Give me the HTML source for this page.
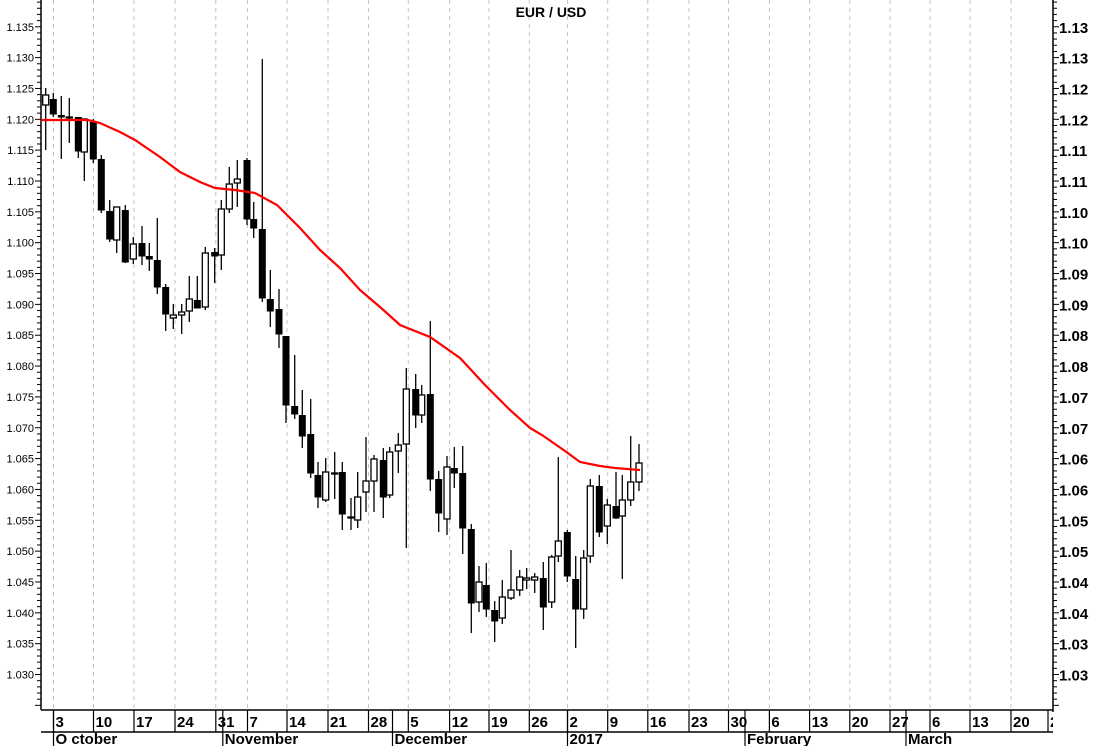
<!DOCTYPE html>
<html><head><meta charset="utf-8"><style>
html,body{margin:0;padding:0;background:#fff;}
svg{display:block;font-family:"Liberation Sans",Arial,sans-serif;}
</style></head><body>
<svg id="s" width="1095" height="746" xmlns="http://www.w3.org/2000/svg">
<defs><clipPath id="cp"><rect x="0" y="700" width="1053" height="46"/></clipPath></defs>
<rect width="1095" height="746" fill="#fff"/>
<g id="grid"></g>
<g id="axes"></g>
<g id="bot" clip-path="url(#cp)"></g>
<g id="candles"></g>
<polyline fill="none" stroke="#ff0000" stroke-width="2.2" points="41,120 88,120 100,123 120,132 135,140 160,157 180,172 200,182 215,188 235,190 255,193 277,205 300,228 320,250 340,268 360,290 380,307 400,325 430,337 460,358 485,385 510,410 530,428 542,435 565,451 580,462 600,466 615,468 640,470"/>
<text x="551" y="17" font-size="14" font-weight="bold" text-anchor="middle">EUR / USD</text>
</svg>
<script>
var NS="http://www.w3.org/2000/svg";
function el(p,t,a,txt){var e=document.createElementNS(NS,t);for(var k in a)e.setAttribute(k,a[k]);if(txt!==undefined)e.textContent=txt;document.getElementById(p).appendChild(e);return e;}
var gx=[53.5,93.5,134,175,215.8,247.5,287,328,368.5,408.3,449.6,489,529.3,567.5,607.7,647.8,689,728.5,769.4,809.6,849.8,890,930,970,1011,1048];
var gl=["3","10","17","24","31","7","14","21","28","5","12","19","26","2","9","16","23","30","6","13","20","27","6","13","20","2"];
for(var i=0;i<gx.length-1;i++){el("grid","line",{x1:gx[i],y1:0,x2:gx[i],y2:710,stroke:"#c4c4c4","stroke-width":1,"stroke-dasharray":"4,4"});}
el("axes","line",{x1:41,y1:0,x2:41,y2:710,stroke:"#000","stroke-width":1.5});
el("axes","line",{x1:1053,y1:0,x2:1053,y2:712,stroke:"#000","stroke-width":1.5});
el("axes","line",{x1:41,y1:710,x2:1053,y2:710,stroke:"#000","stroke-width":1.5});
el("axes","line",{x1:41,y1:732,x2:1053,y2:732,stroke:"#000","stroke-width":1.5});
function Y(p){return 119.3+(1.12-p)*6169;}
for(var v=1025;v<=1139;v++){var y=Y(v/1000);if(y<0||y>710)continue;var maj=(v%5==0);
el("axes","line",{x1:maj?35:37,y1:y,x2:41,y2:y,stroke:"#000","stroke-width":1});
el("axes","line",{x1:1053,y1:y,x2:maj?1059:1057,y2:y,stroke:"#000","stroke-width":1});
if(maj&&v>=1030&&v<=1135){el("axes","text",{x:34,y:y+4,"font-size":11,"text-anchor":"end"},(v/1000).toFixed(3));
var r=(Math.floor(v/10)/100).toFixed(2);
el("axes","text",{x:1059,y:y+6,"font-size":15,"font-weight":"bold"},r);}}
for(var i=0;i<gx.length;i++){el("bot","line",{x1:gx[i],y1:710,x2:gx[i],y2:732,stroke:"#000","stroke-width":1.2});
el("bot","text",{x:gx[i]+2,y:727,"font-size":15,"font-weight":"bold"},gl[i]);}
var mx=[53.5,222.8,392.5,567.5,745,906],ml=["O ctober","November","December","2017","February","March"];
for(var i=0;i<mx.length;i++){el("bot","line",{x1:mx[i],y1:710,x2:mx[i],y2:746,stroke:"#000","stroke-width":1.2});
el("bot","text",{x:mx[i]+2,y:744,"font-size":15,"font-weight":"bold"},ml[i]);}
var c=[[45.7,88,150,95,105,1],[53.3,93,117,99,114,0],[61.3,96,159,115,117,0],[69.3,98,143,117,117.5,1],[78.3,117,158,117,151,0],[84.3,119,181,119,152,1],[93.3,119,163,122,159,0],[101.3,155,213,159,210,0],[109.7,200,242,211,239,0],[116.7,207,253,207,240,1],[125.3,205,263,210,262,0],[133.3,237,264,244,259,1],[142,226,265,243,256,0],[149.3,243,271,256,259,0],[157.3,218,294,260,287,0],[165.7,284,331,287,314,0],[173.3,304,329,315,318,1],[181.7,304,334,312,315,1],[189.3,276,322,299,311,1],[197.3,276,306,300,308,0],[205.3,247,310,253,307,1],[214.7,248,283,252,256,0],[221.3,200,270,209,255,1],[229.3,167,213,184,209,1],[237.3,160,207,179,183,1],[247,158,225,160,219,0],[253.7,202,238,219,228,0],[262.3,59,302,229,298,0],[270.3,270,327,299,311,0],[279,289,348,309,334,0],[286,336,423,336,405,0],[294.7,355,419,406,414,0],[302.3,390,448,415,436,0],[310.7,399,478,434,473,0],[318,462,508,475,497,0],[325.7,458,502,472,500,1],[334.7,452,499,473,473.5,1],[342.3,462,530,472,514,0],[351,498,530,517,517.5,1],[357.7,472,528,497,520,1],[366,437,512,481,492,1],[374,455,512,459,481,1],[383.3,448,518,460,497,0],[389.7,447,498,452,495,1],[398.3,433,473,445,451,1],[406.3,368,548,389,444,1],[415.7,374,428,389,415,0],[421.7,385,423,395,415,1],[430.3,321,491,394,479,0],[438.7,471,532,479,513,0],[447,456,535,467,519,1],[454.3,447,488,468,473,0],[462.7,446,554,473,528,0],[471.3,524,633,529,603,0],[479,566,612,582,602,1],[486.3,563,617,585,609,0],[494.7,601,642,610,621,0],[502.3,580,624,597,618,1],[511,550,600,590,598,1],[519.7,570,596,577,590,1],[526.7,568,589,578,580,1],[534.7,573,593,577,580,1],[543.3,562,630,578,607,0],[551.7,555,608,557,602,1],[558.3,457,562,541,556,1],[567.3,530,582,532,576,0],[575.7,556,648,579,609,0],[583.7,550,619,558,609,1],[590.3,479,563,486,556,1],[599.3,475,537,486,532,0],[607.3,499,544,505,526,1],[616,472,519,506,518,0],[622.3,475,579,500,516,1],[630.7,436,506,482,500,1],[639,444,491,463,482,1]];
c.forEach(function(d){el("candles","line",{x1:d[0],y1:d[1],x2:d[0],y2:d[2],stroke:"#000","stroke-width":1.3});
var h=Math.max(d[4]-d[3],1);
if(d[5]){el("candles","rect",{x:d[0]-3,y:d[3],width:6,height:h,fill:"#fff",stroke:"#000","stroke-width":1.3});}
else{el("candles","rect",{x:d[0]-3.5,y:d[3],width:7,height:h+0.5,fill:"#000"});}});
</script>
</body></html>
